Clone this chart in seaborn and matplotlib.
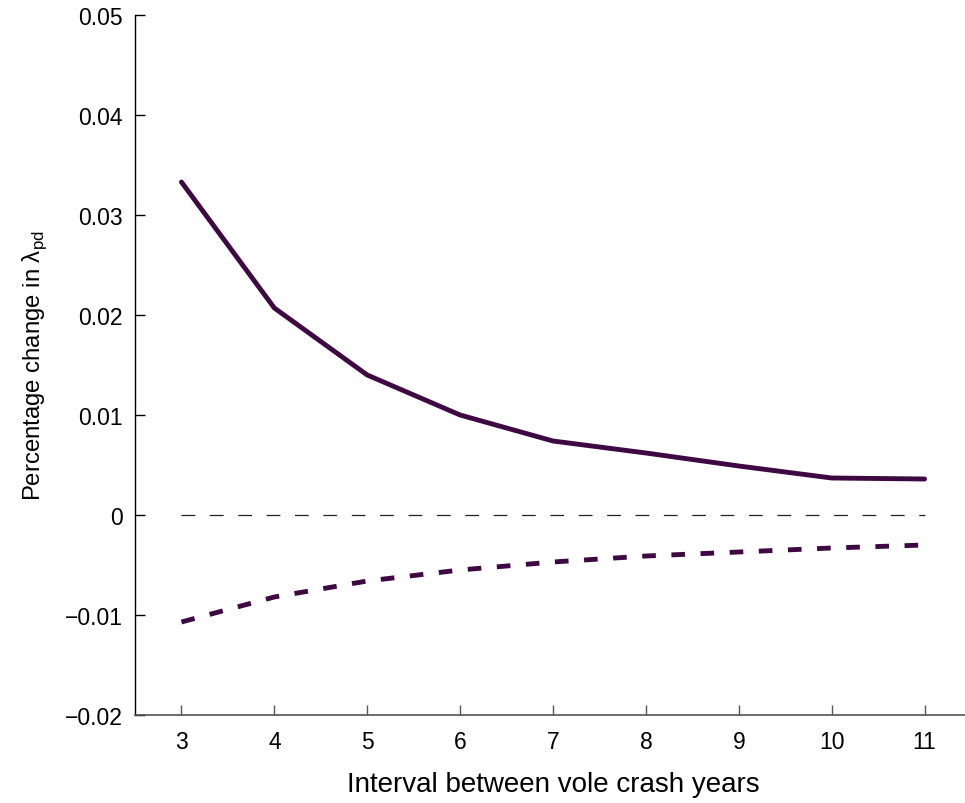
"""
Percentage change in lambda_pd against the interval between vole crash years.
"""

import matplotlib
matplotlib.use("Agg")
import matplotlib.pyplot as plt
import pandas as pd
import seaborn as sns

# values
intervals = [3, 4, 5, 6, 7, 8, 9, 10, 11]
change_up = [0.0333, 0.0207, 0.0140, 0.0100, 0.0074, 0.0062, 0.0049, 0.0037, 0.0036]
change_down = [-0.0107, -0.0082, -0.0066, -0.0055, -0.0047, -0.0041, -0.0037, -0.0033, -0.0030]
baseline = [0.0] * len(intervals)

y_ticks = [-0.02, -0.01, 0, 0.01, 0.02, 0.03, 0.04, 0.05]
y_tick_labels = ["\u22120.02", "\u22120.01", "0", "0.01", "0.02", "0.03", "0.04", "0.05"]

LINE_COLOR = "#3e0842"

sns.set_style("white")
plt.rcParams["font.family"] = ["Liberation Sans", "DejaVu Sans"]
plt.rcParams["mathtext.fontset"] = "custom"
plt.rcParams["mathtext.rm"] = "Liberation Sans"
plt.rcParams["text.color"] = "black"
plt.rcParams["axes.labelcolor"] = "black"

df = pd.DataFrame({
    "interval": intervals,
    "up": change_up,
    "down": change_down,
    "zero": baseline,
})

fig = plt.figure(figsize=(9.65, 8.04), dpi=100)
ax = fig.add_axes([135 / 965, 88 / 804, 836 / 965, 700 / 804])

sns.lineplot(data=df, x="interval", y="zero", ax=ax, color="#222222",
             linewidth=0.9)
ax.lines[-1].set_dashes((11, 11.7))
sns.lineplot(data=df, x="interval", y="up", ax=ax, color=LINE_COLOR,
             linewidth=3.5)
sns.lineplot(data=df, x="interval", y="down", ax=ax, color=LINE_COLOR,
             linewidth=3.5)
ax.lines[-1].set_dashes((2.8, 3.2))

ax.set_xlim(2.5, 11.5)
ax.set_ylim(-0.02, 0.05)
ax.set_xticks(intervals)
ax.set_yticks(y_ticks)
ax.set_yticklabels(y_tick_labels)
ax.tick_params(bottom=True, left=True, direction="in", length=7, width=1,
               labelsize=16.5, colors="black")
ax.tick_params(axis="y", pad=9)
ax.tick_params(axis="x", pad=11)

for side in ("top", "right"):
    ax.spines[side].set_visible(False)
ax.spines["left"].set_color("black")
ax.spines["bottom"].set_color("#555555")
ax.spines["left"].set_linewidth(1)
ax.spines["bottom"].set_linewidth(1.2)
ax.tick_params(axis="x", color="#555555")

ax.set_xlabel("Interval between vole crash years", fontsize=20, labelpad=13)
ax.set_ylabel("Percentage change in \u03bb$_{\\mathrm{pd}}$", fontsize=17.2,
              labelpad=11)

fig.savefig("out.png", dpi=100)
plt.close(fig)
